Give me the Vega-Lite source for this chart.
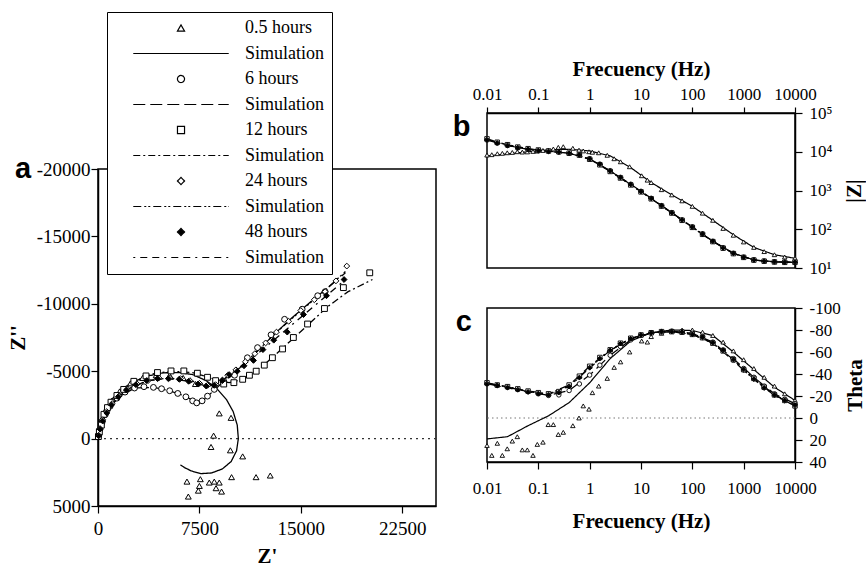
{
  "$schema": "https://vega.github.io/schema/vega-lite/v6.json",
  "background": "white",
  "padding": {"left": 6, "top": 10, "right": 0, "bottom": 0},
  "config": {
    "view": {"stroke": "black", "strokeWidth": 1.5},
    "axis": {"domainColor": "black", "domainWidth": 1.5, "tickColor": "black", "tickWidth": 1.2, "labelColor": "black", "titleColor": "black", "labelFont": "Liberation Serif", "titleFont": "Liberation Serif", "grid": false, "labelFlush": false, "labelOverlap": false, "titleFontWeight": "bold"}
  },
  "datasets": {
    "nyq": [
      {"k":"0.5 hours","x":40,"y":-300},{"k":"0.5 hours","x":120,"y":-800},{"k":"0.5 hours","x":300,"y":-1500},{"k":"0.5 hours","x":600,"y":-2200},{"k":"0.5 hours","x":1000,"y":-2800},{"k":"0.5 hours","x":1600,"y":-3500},{"k":"0.5 hours","x":2400,"y":-4100},{"k":"0.5 hours","x":3300,"y":-4500},{"k":"0.5 hours","x":4300,"y":-4700},{"k":"0.5 hours","x":5300,"y":-4700},{"k":"0.5 hours","x":6300,"y":-4500},{"k":"0.5 hours","x":7200,"y":-4050},{"k":"0.5 hours","x":8970,"y":-1870},{"k":"0.5 hours","x":9840,"y":-1540},{"k":"0.5 hours","x":8550,"y":-220},{"k":"0.5 hours","x":8360,"y":620},{"k":"0.5 hours","x":9790,"y":870},{"k":"0.5 hours","x":10700,"y":1320},{"k":"0.5 hours","x":12740,"y":2740},{"k":"0.5 hours","x":11690,"y":2860},{"k":"0.5 hours","x":9880,"y":2860},{"k":"0.5 hours","x":9140,"y":3930},{"k":"0.5 hours","x":8970,"y":3260},{"k":"0.5 hours","x":8730,"y":3680},{"k":"0.5 hours","x":8600,"y":3190},{"k":"0.5 hours","x":8230,"y":3260},{"k":"0.5 hours","x":7570,"y":3010},{"k":"0.5 hours","x":7500,"y":3510},{"k":"0.5 hours","x":7420,"y":3860},{"k":"0.5 hours","x":6580,"y":3190},{"k":"0.5 hours","x":6680,"y":4300},
      {"k":"6 hours","x":60,"y":-300},{"k":"6 hours","x":150,"y":-700},{"k":"6 hours","x":300,"y":-1200},{"k":"6 hours","x":550,"y":-1800},{"k":"6 hours","x":900,"y":-2400},{"k":"6 hours","x":1400,"y":-3000},{"k":"6 hours","x":2000,"y":-3450},{"k":"6 hours","x":2700,"y":-3750},{"k":"6 hours","x":3400,"y":-3850},{"k":"6 hours","x":4100,"y":-3800},{"k":"6 hours","x":4700,"y":-3700},{"k":"6 hours","x":5300,"y":-3550},{"k":"6 hours","x":5900,"y":-3350},{"k":"6 hours","x":6500,"y":-3100},{"k":"6 hours","x":7000,"y":-2800},{"k":"6 hours","x":7300,"y":-2650},{"k":"6 hours","x":7700,"y":-2800},{"k":"6 hours","x":8100,"y":-3150},{"k":"6 hours","x":8600,"y":-3650},{"k":"6 hours","x":9300,"y":-4250},{"k":"6 hours","x":10100,"y":-4700},{"k":"6 hours","x":11050,"y":-6000},{"k":"6 hours","x":11800,"y":-6750},{"k":"6 hours","x":12800,"y":-7700},{"k":"6 hours","x":13800,"y":-8850},{"k":"6 hours","x":15100,"y":-9600},{"k":"6 hours","x":16250,"y":-10600},{"k":"6 hours","x":16800,"y":-10900},
      {"k":"12 hours","x":30,"y":-150},{"k":"12 hours","x":100,"y":-500},{"k":"12 hours","x":250,"y":-1000},{"k":"12 hours","x":440,"y":-1800},{"k":"12 hours","x":700,"y":-2300},{"k":"12 hours","x":960,"y":-2700},{"k":"12 hours","x":1400,"y":-3200},{"k":"12 hours","x":1900,"y":-3650},{"k":"12 hours","x":2650,"y":-4250},{"k":"12 hours","x":3550,"y":-4650},{"k":"12 hours","x":4400,"y":-4900},{"k":"12 hours","x":5400,"y":-5020},{"k":"12 hours","x":6350,"y":-5020},{"k":"12 hours","x":7350,"y":-4850},{"k":"12 hours","x":8100,"y":-4550},{"k":"12 hours","x":8700,"y":-4300},{"k":"12 hours","x":9300,"y":-4050},{"k":"12 hours","x":10050,"y":-4150},{"k":"12 hours","x":10700,"y":-4400},{"k":"12 hours","x":11200,"y":-4700},{"k":"12 hours","x":11700,"y":-5000},{"k":"12 hours","x":12300,"y":-5450},{"k":"12 hours","x":12900,"y":-6000},{"k":"12 hours","x":13650,"y":-6650},{"k":"12 hours","x":14450,"y":-7500},{"k":"12 hours","x":15500,"y":-8500},{"k":"12 hours","x":16750,"y":-9650},{"k":"12 hours","x":18150,"y":-11200},{"k":"12 hours","x":20100,"y":-12300},
      {"k":"24 hours","x":50,"y":-250},{"k":"24 hours","x":150,"y":-750},{"k":"24 hours","x":350,"y":-1400},{"k":"24 hours","x":650,"y":-2000},{"k":"24 hours","x":1050,"y":-2600},{"k":"24 hours","x":1550,"y":-3150},{"k":"24 hours","x":2150,"y":-3650},{"k":"24 hours","x":2900,"y":-4050},{"k":"24 hours","x":3700,"y":-4300},{"k":"24 hours","x":4500,"y":-4500},{"k":"24 hours","x":5300,"y":-4500},{"k":"24 hours","x":6100,"y":-4450},{"k":"24 hours","x":6800,"y":-4300},{"k":"24 hours","x":7500,"y":-4100},{"k":"24 hours","x":8100,"y":-3950},{"k":"24 hours","x":8700,"y":-4000},{"k":"24 hours","x":9200,"y":-4350},{"k":"24 hours","x":9600,"y":-4700},{"k":"24 hours","x":10200,"y":-5100},{"k":"24 hours","x":10900,"y":-5700},{"k":"24 hours","x":11600,"y":-6300},{"k":"24 hours","x":12400,"y":-7100},{"k":"24 hours","x":13200,"y":-7900},{"k":"24 hours","x":14100,"y":-8700},{"k":"24 hours","x":15000,"y":-9500},{"k":"24 hours","x":16000,"y":-10300},{"k":"24 hours","x":16800,"y":-10900},{"k":"24 hours","x":17600,"y":-11700},{"k":"24 hours","x":18400,"y":-12800},
      {"k":"48 hours","x":50,"y":-200},{"k":"48 hours","x":150,"y":-700},{"k":"48 hours","x":350,"y":-1300},{"k":"48 hours","x":650,"y":-1900},{"k":"48 hours","x":1000,"y":-2500},{"k":"48 hours","x":1500,"y":-3100},{"k":"48 hours","x":2100,"y":-3600},{"k":"48 hours","x":2800,"y":-4000},{"k":"48 hours","x":3600,"y":-4300},{"k":"48 hours","x":4400,"y":-4450},{"k":"48 hours","x":5200,"y":-4450},{"k":"48 hours","x":6000,"y":-4400},{"k":"48 hours","x":6700,"y":-4250},{"k":"48 hours","x":7400,"y":-4050},{"k":"48 hours","x":8000,"y":-3900},{"k":"48 hours","x":8600,"y":-3950},{"k":"48 hours","x":9200,"y":-4300},{"k":"48 hours","x":9700,"y":-4750},{"k":"48 hours","x":10300,"y":-5000},{"k":"48 hours","x":10800,"y":-5400},{"k":"48 hours","x":11500,"y":-5800},{"k":"48 hours","x":12200,"y":-6600},{"k":"48 hours","x":13000,"y":-7300},{"k":"48 hours","x":14000,"y":-7900},{"k":"48 hours","x":15200,"y":-9200},{"k":"48 hours","x":16900,"y":-10600},{"k":"48 hours","x":18200,"y":-11800}
    ],
    "nyqsim": [
      {"k":"sim0.5","x":0,"y":0},{"k":"sim0.5","x":80,"y":-600},{"k":"sim0.5","x":250,"y":-1300},{"k":"sim0.5","x":600,"y":-2200},{"k":"sim0.5","x":1100,"y":-3000},{"k":"sim0.5","x":1800,"y":-3700},{"k":"sim0.5","x":2700,"y":-4250},{"k":"sim0.5","x":3700,"y":-4650},{"k":"sim0.5","x":4800,"y":-4880},{"k":"sim0.5","x":6000,"y":-4900},{"k":"sim0.5","x":7000,"y":-4750},{"k":"sim0.5","x":8000,"y":-4300},{"k":"sim0.5","x":8800,"y":-3700},{"k":"sim0.5","x":9500,"y":-2900},{"k":"sim0.5","x":10000,"y":-2000},{"k":"sim0.5","x":10300,"y":-1000},{"k":"sim0.5","x":10380,"y":0},{"k":"sim0.5","x":10250,"y":900},{"k":"sim0.5","x":9850,"y":1700},{"k":"sim0.5","x":9200,"y":2250},{"k":"sim0.5","x":8400,"y":2550},{"k":"sim0.5","x":7600,"y":2600},{"k":"sim0.5","x":6900,"y":2400},{"k":"sim0.5","x":6400,"y":2150},{"k":"sim0.5","x":6100,"y":1950},
      {"k":"sim6","x":0,"y":0},{"k":"sim6","x":150,"y":-700},{"k":"sim6","x":550,"y":-1800},{"k":"sim6","x":1400,"y":-3000},{"k":"sim6","x":2700,"y":-3750},{"k":"sim6","x":4100,"y":-3800},{"k":"sim6","x":5300,"y":-3550},{"k":"sim6","x":6300,"y":-3200},{"k":"sim6","x":7000,"y":-2850},{"k":"sim6","x":7400,"y":-2750},{"k":"sim6","x":7900,"y":-2950},{"k":"sim6","x":8500,"y":-3500},{"k":"sim6","x":9300,"y":-4250},{"k":"sim6","x":10100,"y":-4800},{"k":"sim6","x":11000,"y":-5700},{"k":"sim6","x":12000,"y":-6700},{"k":"sim6","x":13200,"y":-7900},{"k":"sim6","x":14500,"y":-9100},{"k":"sim6","x":15800,"y":-10200},{"k":"sim6","x":17000,"y":-11200},{"k":"sim6","x":18300,"y":-12300},
      {"k":"sim12","x":0,"y":0},{"k":"sim12","x":250,"y":-1000},{"k":"sim12","x":700,"y":-2300},{"k":"sim12","x":1400,"y":-3200},{"k":"sim12","x":2600,"y":-4200},{"k":"sim12","x":4000,"y":-4800},{"k":"sim12","x":5500,"y":-5000},{"k":"sim12","x":7000,"y":-4900},{"k":"sim12","x":8200,"y":-4550},{"k":"sim12","x":9000,"y":-4250},{"k":"sim12","x":9700,"y":-4150},{"k":"sim12","x":10500,"y":-4350},{"k":"sim12","x":11300,"y":-4800},{"k":"sim12","x":12200,"y":-5400},{"k":"sim12","x":13200,"y":-6300},{"k":"sim12","x":14300,"y":-7300},{"k":"sim12","x":15600,"y":-8500},{"k":"sim12","x":17000,"y":-9800},{"k":"sim12","x":18500,"y":-10900},{"k":"sim12","x":20300,"y":-11800},
      {"k":"sim24","x":0,"y":0},{"k":"sim24","x":350,"y":-1400},{"k":"sim24","x":1050,"y":-2600},{"k":"sim24","x":2150,"y":-3650},{"k":"sim24","x":3700,"y":-4300},{"k":"sim24","x":5300,"y":-4500},{"k":"sim24","x":6800,"y":-4300},{"k":"sim24","x":8000,"y":-4000},{"k":"sim24","x":8800,"y":-4050},{"k":"sim24","x":9500,"y":-4550},{"k":"sim24","x":10500,"y":-5300},{"k":"sim24","x":11600,"y":-6300},{"k":"sim24","x":12800,"y":-7500},{"k":"sim24","x":14100,"y":-8700},{"k":"sim24","x":15500,"y":-9900},{"k":"sim24","x":16900,"y":-11100},{"k":"sim24","x":18300,"y":-12400},
      {"k":"sim48","x":0,"y":0},{"k":"sim48","x":350,"y":-1300},{"k":"sim48","x":1000,"y":-2500},{"k":"sim48","x":2100,"y":-3600},{"k":"sim48","x":3600,"y":-4300},{"k":"sim48","x":5200,"y":-4450},{"k":"sim48","x":6700,"y":-4250},{"k":"sim48","x":8000,"y":-3900},{"k":"sim48","x":8800,"y":-3950},{"k":"sim48","x":9600,"y":-4600},{"k":"sim48","x":10700,"y":-5400},{"k":"sim48","x":11800,"y":-6300},{"k":"sim48","x":13000,"y":-7300},{"k":"sim48","x":14300,"y":-8400},{"k":"sim48","x":15600,"y":-9500},{"k":"sim48","x":16900,"y":-10600},{"k":"sim48","x":18300,"y":-11800}
    ],
    "bode": [
      {"k":"0.5 hours","f":0.01,"z":8200,"t":25},{"k":"0.5 hours","f":0.0124,"z":8400,"t":34},{"k":"0.5 hours","f":0.0159,"z":8900,"t":23},{"k":"0.5 hours","f":0.0199,"z":9100,"t":34},{"k":"0.5 hours","f":0.0248,"z":9400,"t":28},{"k":"0.5 hours","f":0.0311,"z":9600,"t":21},{"k":"0.5 hours","f":0.0389,"z":10000,"t":17},{"k":"0.5 hours","f":0.0487,"z":9800,"t":29},{"k":"0.5 hours","f":0.061,"z":9900,"t":29},{"k":"0.5 hours","f":0.0787,"z":10200,"t":34},{"k":"0.5 hours","f":0.0955,"z":10400,"t":24},{"k":"0.5 hours","f":0.123,"z":10800,"t":22},{"k":"0.5 hours","f":0.156,"z":11000,"t":6},{"k":"0.5 hours","f":0.196,"z":11800,"t":6},{"k":"0.5 hours","f":0.245,"z":13000,"t":15},{"k":"0.5 hours","f":0.306,"z":13500,"t":13},{"k":"0.5 hours","f":0.47,"z":12300,"t":7},{"k":"0.5 hours","f":0.62,"z":11000,"t":0},{"k":"0.5 hours","f":0.75,"z":10500,"t":-11},{"k":"0.5 hours","f":0.97,"z":10000,"t":-8},{"k":"0.5 hours","f":1.13,"z":9700,"t":-23},{"k":"0.5 hours","f":1.5,"z":9400,"t":-29},{"k":"0.5 hours","f":2.2,"z":8100,"t":-36},{"k":"0.5 hours","f":3.0,"z":6600,"t":-46},{"k":"0.5 hours","f":4.0,"z":5500,"t":-51},{"k":"0.5 hours","f":6.0,"z":4100,"t":-60},{"k":"0.5 hours","f":10.3,"z":2400,"t":-70},{"k":"0.5 hours","f":13.3,"z":1850,"t":-69},{"k":"0.5 hours","f":15.8,"z":1600,"t":-74},{"k":"0.5 hours","f":25.1,"z":1050,"t":-77},{"k":"0.5 hours","f":39.8,"z":770,"t":-79},{"k":"0.5 hours","f":63.1,"z":540,"t":-80},{"k":"0.5 hours","f":100,"z":390,"t":-80},{"k":"0.5 hours","f":158,"z":260,"t":-78},{"k":"0.5 hours","f":251,"z":170,"t":-75},{"k":"0.5 hours","f":398,"z":105,"t":-69},{"k":"0.5 hours","f":631,"z":70,"t":-61},{"k":"0.5 hours","f":1000,"z":47,"t":-53},{"k":"0.5 hours","f":1580,"z":34,"t":-45},{"k":"0.5 hours","f":2510,"z":26.5,"t":-37},{"k":"0.5 hours","f":3980,"z":22,"t":-29},{"k":"0.5 hours","f":6310,"z":19.2,"t":-22},{"k":"0.5 hours","f":10000,"z":17.8,"t":-16},
      {"k":"6 hours","f":0.01,"z":20000,"t":-31},{"k":"6 hours","f":0.0158,"z":16600,"t":-29.5},{"k":"6 hours","f":0.0251,"z":14450,"t":-28},{"k":"6 hours","f":0.0398,"z":12600,"t":-26},{"k":"6 hours","f":0.0631,"z":11500,"t":-24},{"k":"6 hours","f":0.1,"z":10700,"t":-22},{"k":"6 hours","f":0.158,"z":10200,"t":-20.5},{"k":"6 hours","f":0.251,"z":9800,"t":-21},{"k":"6 hours","f":0.398,"z":9100,"t":-25},{"k":"6 hours","f":0.631,"z":8300,"t":-31},{"k":"6 hours","f":1,"z":6600,"t":-39},{"k":"6 hours","f":1.58,"z":4800,"t":-48},{"k":"6 hours","f":2.51,"z":3240,"t":-57},{"k":"6 hours","f":3.98,"z":2190,"t":-65},{"k":"6 hours","f":6.31,"z":1450,"t":-71},{"k":"6 hours","f":10,"z":955,"t":-75},{"k":"6 hours","f":15.8,"z":630,"t":-77.5},{"k":"6 hours","f":25.1,"z":407,"t":-78.5},{"k":"6 hours","f":39.8,"z":269,"t":-79},{"k":"6 hours","f":63.1,"z":174,"t":-78.5},{"k":"6 hours","f":100,"z":115,"t":-77},{"k":"6 hours","f":158,"z":76,"t":-74},{"k":"6 hours","f":251,"z":49,"t":-69},{"k":"6 hours","f":398,"z":33,"t":-62},{"k":"6 hours","f":631,"z":24,"t":-54},{"k":"6 hours","f":1000,"z":19,"t":-45},{"k":"6 hours","f":1580,"z":16.2,"t":-37},{"k":"6 hours","f":2510,"z":15.1,"t":-29},{"k":"6 hours","f":3980,"z":14.5,"t":-22},{"k":"6 hours","f":6310,"z":14.1,"t":-17},{"k":"6 hours","f":10000,"z":14.1,"t":-13},
      {"k":"12 hours","f":0.01,"z":21500,"t":-32},{"k":"12 hours","f":0.0158,"z":17600,"t":-30},{"k":"12 hours","f":0.0251,"z":15200,"t":-28.5},{"k":"12 hours","f":0.0398,"z":13200,"t":-26.5},{"k":"12 hours","f":0.0631,"z":12000,"t":-24.5},{"k":"12 hours","f":0.1,"z":11100,"t":-23},{"k":"12 hours","f":0.158,"z":10500,"t":-22},{"k":"12 hours","f":0.251,"z":10000,"t":-24},{"k":"12 hours","f":0.398,"z":9200,"t":-30},{"k":"12 hours","f":0.631,"z":8200,"t":-38},{"k":"12 hours","f":1,"z":6400,"t":-47},{"k":"12 hours","f":1.58,"z":4600,"t":-55},{"k":"12 hours","f":2.51,"z":3100,"t":-62},{"k":"12 hours","f":3.98,"z":2100,"t":-68},{"k":"12 hours","f":6.31,"z":1390,"t":-72.5},{"k":"12 hours","f":10,"z":920,"t":-75.5},{"k":"12 hours","f":15.8,"z":610,"t":-77.5},{"k":"12 hours","f":25.1,"z":395,"t":-78.5},{"k":"12 hours","f":39.8,"z":262,"t":-78.5},{"k":"12 hours","f":63.1,"z":170,"t":-78},{"k":"12 hours","f":100,"z":112,"t":-76},{"k":"12 hours","f":158,"z":74,"t":-73},{"k":"12 hours","f":251,"z":48,"t":-68},{"k":"12 hours","f":398,"z":32.5,"t":-61},{"k":"12 hours","f":631,"z":23.5,"t":-53},{"k":"12 hours","f":1000,"z":18.8,"t":-44},{"k":"12 hours","f":1580,"z":16,"t":-36},{"k":"12 hours","f":2510,"z":15,"t":-28},{"k":"12 hours","f":3980,"z":14.3,"t":-21},{"k":"12 hours","f":6310,"z":14,"t":-16},{"k":"12 hours","f":10000,"z":14,"t":-11},
      {"k":"24 hours","f":0.01,"z":20800,"t":-31.5},{"k":"24 hours","f":0.0158,"z":17000,"t":-30},{"k":"24 hours","f":0.0251,"z":14800,"t":-28},{"k":"24 hours","f":0.0398,"z":12900,"t":-26},{"k":"24 hours","f":0.0631,"z":11800,"t":-24},{"k":"24 hours","f":0.1,"z":10900,"t":-22.5},{"k":"24 hours","f":0.158,"z":10300,"t":-21.5},{"k":"24 hours","f":0.251,"z":9900,"t":-23.5},{"k":"24 hours","f":0.398,"z":9100,"t":-29},{"k":"24 hours","f":0.631,"z":8200,"t":-37},{"k":"24 hours","f":1,"z":6500,"t":-46},{"k":"24 hours","f":1.58,"z":4700,"t":-54},{"k":"24 hours","f":2.51,"z":3150,"t":-61.5},{"k":"24 hours","f":3.98,"z":2130,"t":-67.5},{"k":"24 hours","f":6.31,"z":1410,"t":-72},{"k":"24 hours","f":10,"z":935,"t":-75.5},{"k":"24 hours","f":15.8,"z":620,"t":-77.5},{"k":"24 hours","f":25.1,"z":400,"t":-78.5},{"k":"24 hours","f":39.8,"z":265,"t":-78.5},{"k":"24 hours","f":63.1,"z":172,"t":-78},{"k":"24 hours","f":100,"z":113,"t":-76},{"k":"24 hours","f":158,"z":75,"t":-73},{"k":"24 hours","f":251,"z":48.5,"t":-68},{"k":"24 hours","f":398,"z":33,"t":-61},{"k":"24 hours","f":631,"z":24,"t":-52},{"k":"24 hours","f":1000,"z":19,"t":-43},{"k":"24 hours","f":1580,"z":16.1,"t":-35},{"k":"24 hours","f":2510,"z":15,"t":-27},{"k":"24 hours","f":3980,"z":14.4,"t":-20.5},{"k":"24 hours","f":6310,"z":14,"t":-15.5},{"k":"24 hours","f":10000,"z":14,"t":-11},
      {"k":"48 hours","f":0.01,"z":20300,"t":-31},{"k":"48 hours","f":0.0158,"z":16800,"t":-29.5},{"k":"48 hours","f":0.0251,"z":14600,"t":-27.5},{"k":"48 hours","f":0.0398,"z":12700,"t":-25.5},{"k":"48 hours","f":0.0631,"z":11600,"t":-23.5},{"k":"48 hours","f":0.1,"z":10800,"t":-22},{"k":"48 hours","f":0.158,"z":10200,"t":-21},{"k":"48 hours","f":0.251,"z":9800,"t":-23},{"k":"48 hours","f":0.398,"z":9100,"t":-28.5},{"k":"48 hours","f":0.631,"z":8250,"t":-36.5},{"k":"48 hours","f":1,"z":6550,"t":-45.5},{"k":"48 hours","f":1.58,"z":4750,"t":-54},{"k":"48 hours","f":2.51,"z":3200,"t":-61.5},{"k":"48 hours","f":3.98,"z":2160,"t":-67.5},{"k":"48 hours","f":6.31,"z":1430,"t":-72},{"k":"48 hours","f":10,"z":945,"t":-75.5},{"k":"48 hours","f":15.8,"z":625,"t":-77.5},{"k":"48 hours","f":25.1,"z":403,"t":-78.5},{"k":"48 hours","f":39.8,"z":267,"t":-78.5},{"k":"48 hours","f":63.1,"z":173,"t":-78},{"k":"48 hours","f":100,"z":114,"t":-76},{"k":"48 hours","f":158,"z":75.5,"t":-73.5},{"k":"48 hours","f":251,"z":49,"t":-68.5},{"k":"48 hours","f":398,"z":33,"t":-61.5},{"k":"48 hours","f":631,"z":24,"t":-53},{"k":"48 hours","f":1000,"z":19,"t":-44},{"k":"48 hours","f":1580,"z":16.1,"t":-35.5},{"k":"48 hours","f":2510,"z":15,"t":-27.5},{"k":"48 hours","f":3980,"z":14.4,"t":-21},{"k":"48 hours","f":6310,"z":14.1,"t":-16},{"k":"48 hours","f":10000,"z":14,"t":-12}
    ],
    "bsim": [
      {"k":"sim0.5","f":0.01,"z":7800,"t":19},{"k":"sim0.5","f":0.0251,"z":8800,"t":17},{"k":"sim0.5","f":0.0631,"z":10000,"t":7},{"k":"sim0.5","f":0.158,"z":11200,"t":-2},{"k":"sim0.5","f":0.398,"z":11600,"t":-14},{"k":"sim0.5","f":1,"z":10500,"t":-32},{"k":"sim0.5","f":2.51,"z":7800,"t":-54},{"k":"sim0.5","f":6.31,"z":3900,"t":-70},{"k":"sim0.5","f":15.8,"z":1600,"t":-77.5},{"k":"sim0.5","f":39.8,"z":770,"t":-80},{"k":"sim0.5","f":100,"z":390,"t":-79.5},{"k":"sim0.5","f":251,"z":170,"t":-75},{"k":"sim0.5","f":631,"z":72,"t":-60},{"k":"sim0.5","f":1580,"z":34,"t":-44},{"k":"sim0.5","f":3980,"z":22,"t":-28},{"k":"sim0.5","f":10000,"z":17.8,"t":-16},
      {"k":"sim6","f":0.01,"z":20000,"t":-31},{"k":"sim6","f":0.0251,"z":14450,"t":-28},{"k":"sim6","f":0.0631,"z":11500,"t":-24},{"k":"sim6","f":0.158,"z":10200,"t":-20.5},{"k":"sim6","f":0.398,"z":9100,"t":-25},{"k":"sim6","f":1,"z":6600,"t":-39},{"k":"sim6","f":2.51,"z":3240,"t":-57},{"k":"sim6","f":6.31,"z":1450,"t":-71},{"k":"sim6","f":15.8,"z":630,"t":-77.5},{"k":"sim6","f":39.8,"z":269,"t":-79},{"k":"sim6","f":100,"z":115,"t":-77},{"k":"sim6","f":251,"z":49,"t":-69},{"k":"sim6","f":631,"z":24,"t":-54},{"k":"sim6","f":1580,"z":16.2,"t":-37},{"k":"sim6","f":3980,"z":14.5,"t":-22},{"k":"sim6","f":10000,"z":14.1,"t":-13},
      {"k":"sim12","f":0.01,"z":21500,"t":-32},{"k":"sim12","f":0.0251,"z":15200,"t":-28.5},{"k":"sim12","f":0.0631,"z":12000,"t":-24.5},{"k":"sim12","f":0.158,"z":10500,"t":-22},{"k":"sim12","f":0.398,"z":9200,"t":-30},{"k":"sim12","f":1,"z":6400,"t":-47},{"k":"sim12","f":2.51,"z":3100,"t":-62},{"k":"sim12","f":6.31,"z":1390,"t":-72.5},{"k":"sim12","f":15.8,"z":610,"t":-77.5},{"k":"sim12","f":39.8,"z":262,"t":-78.5},{"k":"sim12","f":100,"z":112,"t":-76},{"k":"sim12","f":251,"z":48,"t":-68},{"k":"sim12","f":631,"z":23.5,"t":-53},{"k":"sim12","f":1580,"z":16,"t":-36},{"k":"sim12","f":3980,"z":14.3,"t":-21},{"k":"sim12","f":10000,"z":14,"t":-11},
      {"k":"sim24","f":0.01,"z":20800,"t":-31.5},{"k":"sim24","f":0.0251,"z":14800,"t":-28},{"k":"sim24","f":0.0631,"z":11800,"t":-24},{"k":"sim24","f":0.158,"z":10300,"t":-21.5},{"k":"sim24","f":0.398,"z":9100,"t":-29},{"k":"sim24","f":1,"z":6500,"t":-46},{"k":"sim24","f":2.51,"z":3150,"t":-61.5},{"k":"sim24","f":6.31,"z":1410,"t":-72},{"k":"sim24","f":15.8,"z":620,"t":-77.5},{"k":"sim24","f":39.8,"z":265,"t":-78.5},{"k":"sim24","f":100,"z":113,"t":-76},{"k":"sim24","f":251,"z":48.5,"t":-68},{"k":"sim24","f":631,"z":24,"t":-52},{"k":"sim24","f":1580,"z":16.1,"t":-35},{"k":"sim24","f":3980,"z":14.4,"t":-20.5},{"k":"sim24","f":10000,"z":14,"t":-11},
      {"k":"sim48","f":0.01,"z":20300,"t":-31},{"k":"sim48","f":0.0251,"z":14600,"t":-27.5},{"k":"sim48","f":0.0631,"z":11600,"t":-23.5},{"k":"sim48","f":0.158,"z":10200,"t":-21},{"k":"sim48","f":0.398,"z":9100,"t":-28.5},{"k":"sim48","f":1,"z":6550,"t":-45.5},{"k":"sim48","f":2.51,"z":3200,"t":-61.5},{"k":"sim48","f":6.31,"z":1430,"t":-72},{"k":"sim48","f":15.8,"z":625,"t":-77.5},{"k":"sim48","f":39.8,"z":267,"t":-78.5},{"k":"sim48","f":100,"z":114,"t":-76},{"k":"sim48","f":251,"z":49,"t":-68.5},{"k":"sim48","f":631,"z":24,"t":-53},{"k":"sim48","f":1580,"z":16.1,"t":-35.5},{"k":"sim48","f":3980,"z":14.4,"t":-21},{"k":"sim48","f":10000,"z":14,"t":-12}
    ]
  },
  "resolve": {"scale": {"shape": "independent", "fill": "independent", "strokeDash": "independent", "stroke": "independent"}, "legend": {"shape": "independent", "fill": "independent", "strokeDash": "independent", "stroke": "independent"}},
  "spacing": 13,
  "hconcat": [
    {
      "spacing": 0,
      "bounds": "flush",
      "resolve": {"scale": {"shape": "independent", "fill": "independent", "strokeDash": "independent", "stroke": "independent"}, "legend": {"shape": "independent", "fill": "independent", "strokeDash": "independent", "stroke": "independent"}},
      "vconcat": [
        {
          "width": 338, "height": 56,
          "view": {"stroke": null},
          "data": {"values": []},
          "mark": {"type": "point", "opacity": 0},
          "encoding": {}
        },
        {
          "width": 338, "height": 337,
          "title": {"text": "a", "orient": "left", "anchor": "end", "frame": "group", "angle": 0, "align": "right", "baseline": "middle", "font": "Liberation Sans", "fontSize": 29, "fontWeight": "bold", "color": "black", "offset": -40},
          "layer": [
            {
              "data": {"values": [{}]},
              "mark": {"type": "rule", "strokeDash": [2, 4], "color": "#333", "strokeWidth": 1.3},
              "encoding": {
                "y": {"datum": 0, "type": "quantitative", "scale": {"domain": [-20000, 5000], "reverse": true, "nice": false, "zero": false}, "axis": {"values": [-20000, -15000, -10000, -5000, 0, 5000], "labelExpr": "'' + datum.value", "title": "Z''", "titleFontSize": 21, "labelFontSize": 19, "tickSize": 7, "labelPadding": 1, "titlePadding": 8}}
              }
            },
            {
              "data": {"name": "nyqsim"},
              "mark": {"type": "line", "strokeWidth": 1.3},
              "encoding": {
                "x": {"field": "x", "type": "quantitative", "scale": {"domain": [0, 25000], "nice": false, "zero": false}, "axis": {"values": [0, 7500, 15000, 22500], "labelExpr": "'' + datum.value", "title": "Z'", "titleFontSize": 21, "labelFontSize": 19, "tickSize": 7, "labelPadding": 6, "titlePadding": 7}},
                "y": {"field": "y", "type": "quantitative", "scale": {"domain": [-20000, 5000], "reverse": true, "nice": false, "zero": false}, "axis": {"values": [-20000, -15000, -10000, -5000, 0, 5000], "labelExpr": "'' + datum.value", "title": "Z''", "titleFontSize": 21, "labelFontSize": 19, "tickSize": 7, "labelPadding": 1, "titlePadding": 8}},
                "order": {"value": null},
                "stroke": {"field": "k", "type": "nominal",
                  "scale": {"domain": ["0.5 hours", "sim0.5", "6 hours", "sim6", "12 hours", "sim12", "24 hours", "sim24", "48 hours", "sim48"], "range": ["black", "black", "black", "black", "black", "black", "black", "black", "black", "black"]},
                  "legend": {"orient": "none", "legendX": 9, "legendY": -157, "title": null, "padding": 7, "strokeColor": "black", "fillColor": "white", "symbolSize": 50, "symbolOffset": 58, "labelOffset": 55, "labelFont": "Liberation Serif", "labelFontSize": 18, "labelColor": "black", "rowPadding": 7.5, "symbolStrokeWidth": 1.2, "labelExpr": "indexof(datum.label, 'sim') === 0 ? 'Simulation  ' : datum.label", "direction": "vertical"}},
                "strokeDash": {"field": "k", "type": "nominal",
                  "scale": {"domain": ["0.5 hours", "sim0.5", "6 hours", "sim6", "12 hours", "sim12", "24 hours", "sim24", "48 hours", "sim48"], "range": [[1, 0], [1, 0], [1, 0], [12, 5], [1, 0], [7, 3, 2, 3], [1, 0], [8, 3, 2, 2, 2, 3], [1, 0], [2, 5, 7, 5, 7, 5]]},
                  "legend": {"orient": "none", "legendX": 9, "legendY": -157, "title": null, "padding": 7, "strokeColor": "black", "fillColor": "white", "symbolSize": 50, "symbolOffset": 58, "labelOffset": 55, "labelFont": "Liberation Serif", "labelFontSize": 18, "labelColor": "black", "rowPadding": 7.5, "symbolStrokeWidth": 1.2, "labelExpr": "indexof(datum.label, 'sim') === 0 ? 'Simulation  ' : datum.label", "direction": "vertical"}}
              }
            },
            {
              "data": {"name": "nyq"},
              "mark": {"type": "point", "filled": true, "strokeWidth": 1, "size": 34, "opacity": 1},
              "encoding": {
                "x": {"field": "x", "type": "quantitative", "scale": {"domain": [0, 25000], "nice": false, "zero": false}, "axis": {"values": [0, 7500, 15000, 22500], "labelExpr": "'' + datum.value", "title": "Z'", "titleFontSize": 21, "labelFontSize": 19, "tickSize": 7, "labelPadding": 6, "titlePadding": 7}},
                "y": {"field": "y", "type": "quantitative", "scale": {"domain": [-20000, 5000], "reverse": true, "nice": false, "zero": false}, "axis": {"values": [-20000, -15000, -10000, -5000, 0, 5000], "labelExpr": "'' + datum.value", "title": "Z''", "titleFontSize": 21, "labelFontSize": 19, "tickSize": 7, "labelPadding": 1, "titlePadding": 8}},
                "stroke": {"field": "k", "type": "nominal",
                  "scale": {"domain": ["0.5 hours", "sim0.5", "6 hours", "sim6", "12 hours", "sim12", "24 hours", "sim24", "48 hours", "sim48"], "range": ["black", "black", "black", "black", "black", "black", "black", "black", "black", "black"]},
                  "legend": {"orient": "none", "legendX": 9, "legendY": -157, "title": null, "padding": 7, "strokeColor": "black", "fillColor": "white", "symbolSize": 50, "symbolOffset": 58, "labelOffset": 55, "labelFont": "Liberation Serif", "labelFontSize": 18, "labelColor": "black", "rowPadding": 7.5, "symbolStrokeWidth": 1.2, "labelExpr": "indexof(datum.label, 'sim') === 0 ? 'Simulation  ' : datum.label", "direction": "vertical"}},
                "shape": {"field": "k", "type": "nominal",
                  "scale": {"domain": ["0.5 hours", "sim0.5", "6 hours", "sim6", "12 hours", "sim12", "24 hours", "sim24", "48 hours", "sim48"], "range": ["triangle-up", "M-13.5,0H13.5", "circle", "M-13.5,0H13.5", "square", "M-13.5,0H13.5", "diamond", "M-13.5,0H13.5", "diamond", "M-13.5,0H13.5"]},
                  "legend": {"orient": "none", "legendX": 9, "legendY": -157, "title": null, "padding": 7, "strokeColor": "black", "fillColor": "white", "symbolSize": 50, "symbolOffset": 58, "labelOffset": 55, "labelFont": "Liberation Serif", "labelFontSize": 18, "labelColor": "black", "rowPadding": 7.5, "symbolStrokeWidth": 1.2, "labelExpr": "indexof(datum.label, 'sim') === 0 ? 'Simulation  ' : datum.label", "direction": "vertical"}},
                "fill": {"field": "k", "type": "nominal",
                  "scale": {"domain": ["0.5 hours", "sim0.5", "6 hours", "sim6", "12 hours", "sim12", "24 hours", "sim24", "48 hours", "sim48"], "range": ["white", "transparent", "white", "transparent", "white", "transparent", "white", "transparent", "black", "transparent"]},
                  "legend": {"orient": "none", "legendX": 9, "legendY": -157, "title": null, "padding": 7, "strokeColor": "black", "fillColor": "white", "symbolSize": 50, "symbolOffset": 58, "labelOffset": 55, "labelFont": "Liberation Serif", "labelFontSize": 18, "labelColor": "black", "rowPadding": 7.5, "symbolStrokeWidth": 1.2, "labelExpr": "indexof(datum.label, 'sim') === 0 ? 'Simulation  ' : datum.label", "direction": "vertical"}}
              }
            }
          ]
        }
      ]
    },
    {
      "spacing": 21,
      "vconcat": [
        {
          "width": 308, "height": 155,
          "title": {"text": "b", "orient": "left", "anchor": "end", "frame": "group", "angle": 0, "align": "right", "baseline": "top", "font": "Liberation Sans", "fontSize": 29, "fontWeight": "bold", "color": "black", "offset": -16},
          "layer": [
            {
              "data": {"name": "bsim"},
              "mark": {"type": "line", "stroke": "black", "strokeWidth": 1.2},
              "encoding": {
                "x": {"field": "f", "type": "quantitative", "scale": {"type": "log", "domain": [0.01, 10000], "nice": false}, "axis": {"orient": "top", "values": [0.01, 0.1, 1, 10, 100, 1000, 10000], "labelExpr": "'' + datum.value", "title": "Frecuency (Hz)", "titleFontSize": 21, "labelFontSize": 17, "tickSize": 6, "labelPadding": 4, "titlePadding": 6}},
                "y": {"field": "z", "type": "quantitative", "scale": {"type": "log", "domain": [10, 100000], "nice": false}, "axis": {"orient": "right", "values": [10, 100, 1000, 10000, 100000], "labelExpr": "datum.value < 50 ? '10¹' : datum.value < 500 ? '10²' : datum.value < 5000 ? '10³' : datum.value < 50000 ? '10⁴' : '10⁵'", "title": "|Z|", "titleAngle": -90, "titleBaseline": "top", "titleFontSize": 21, "labelFontSize": 17, "tickSize": 7, "labelPadding": 7, "titlePadding": 12}},
                "strokeDash": {"field": "k", "type": "nominal", "legend": null,
                  "scale": {"domain": ["0.5 hours", "sim0.5", "6 hours", "sim6", "12 hours", "sim12", "24 hours", "sim24", "48 hours", "sim48"], "range": [[1, 0], [1, 0], [1, 0], [12, 5], [1, 0], [7, 3, 2, 3], [1, 0], [8, 3, 2, 2, 2, 3], [1, 0], [2, 5, 7, 5, 7, 5]]}}
              }
            },
            {
              "data": {"name": "bode"},
              "mark": {"type": "point", "filled": true, "stroke": "black", "strokeWidth": 0.9, "size": 20, "opacity": 1},
              "encoding": {
                "x": {"field": "f", "type": "quantitative", "scale": {"type": "log", "domain": [0.01, 10000], "nice": false}, "axis": {"orient": "top", "values": [0.01, 0.1, 1, 10, 100, 1000, 10000], "labelExpr": "'' + datum.value", "title": "Frecuency (Hz)", "titleFontSize": 21, "labelFontSize": 17, "tickSize": 6, "labelPadding": 4, "titlePadding": 6}},
                "y": {"field": "z", "type": "quantitative", "scale": {"type": "log", "domain": [10, 100000], "nice": false}, "axis": {"orient": "right", "values": [10, 100, 1000, 10000, 100000], "labelExpr": "datum.value < 50 ? '10¹' : datum.value < 500 ? '10²' : datum.value < 5000 ? '10³' : datum.value < 50000 ? '10⁴' : '10⁵'", "title": "|Z|", "titleAngle": -90, "titleBaseline": "top", "titleFontSize": 21, "labelFontSize": 17, "tickSize": 7, "labelPadding": 7, "titlePadding": 12}},
                "shape": {"field": "k", "type": "nominal", "legend": null,
                  "scale": {"domain": ["0.5 hours", "sim0.5", "6 hours", "sim6", "12 hours", "sim12", "24 hours", "sim24", "48 hours", "sim48"], "range": ["triangle-up", "M-13.5,0H13.5", "circle", "M-13.5,0H13.5", "square", "M-13.5,0H13.5", "diamond", "M-13.5,0H13.5", "diamond", "M-13.5,0H13.5"]}},
                "fill": {"field": "k", "type": "nominal", "legend": null,
                  "scale": {"domain": ["0.5 hours", "sim0.5", "6 hours", "sim6", "12 hours", "sim12", "24 hours", "sim24", "48 hours", "sim48"], "range": ["white", "transparent", "white", "transparent", "white", "transparent", "white", "transparent", "black", "transparent"]}}
              }
            }
          ]
        },
        {
          "width": 308, "height": 154,
          "title": {"text": "c", "orient": "left", "anchor": "end", "frame": "group", "angle": 0, "align": "right", "baseline": "top", "font": "Liberation Sans", "fontSize": 29, "fontWeight": "bold", "color": "black", "offset": -16},
          "layer": [
            {
              "data": {"values": [{}]},
              "mark": {"type": "rule", "strokeDash": [1.5, 3], "color": "#777", "strokeWidth": 1},
              "encoding": {
                "y": {"datum": 0, "type": "quantitative", "scale": {"domain": [-100, 40], "reverse": true, "nice": false, "zero": false}, "axis": {"orient": "right", "values": [-100, -80, -60, -40, -20, 0, 20, 40], "labelExpr": "'' + datum.value", "title": "Theta", "titleAngle": -90, "titleBaseline": "top", "titleFontSize": 21, "labelFontSize": 17, "tickSize": 7, "labelPadding": 7, "titlePadding": 4}}
              }
            },
            {
              "data": {"name": "bsim"},
              "mark": {"type": "line", "stroke": "black", "strokeWidth": 1.2},
              "encoding": {
                "x": {"field": "f", "type": "quantitative", "scale": {"type": "log", "domain": [0.01, 10000], "nice": false}, "axis": {"orient": "bottom", "values": [0.01, 0.1, 1, 10, 100, 1000, 10000], "labelExpr": "'' + datum.value", "title": "Frecuency (Hz)", "titleFontSize": 21, "labelFontSize": 17, "tickSize": 7, "labelPadding": 11, "titlePadding": 14}},
                "y": {"field": "t", "type": "quantitative", "scale": {"domain": [-100, 40], "reverse": true, "nice": false, "zero": false}, "axis": {"orient": "right", "values": [-100, -80, -60, -40, -20, 0, 20, 40], "labelExpr": "'' + datum.value", "title": "Theta", "titleAngle": -90, "titleBaseline": "top", "titleFontSize": 21, "labelFontSize": 17, "tickSize": 7, "labelPadding": 7, "titlePadding": 4}},
                "strokeDash": {"field": "k", "type": "nominal", "legend": null,
                  "scale": {"domain": ["0.5 hours", "sim0.5", "6 hours", "sim6", "12 hours", "sim12", "24 hours", "sim24", "48 hours", "sim48"], "range": [[1, 0], [1, 0], [1, 0], [12, 5], [1, 0], [7, 3, 2, 3], [1, 0], [8, 3, 2, 2, 2, 3], [1, 0], [2, 5, 7, 5, 7, 5]]}}
              }
            },
            {
              "data": {"name": "bode"},
              "mark": {"type": "point", "filled": true, "stroke": "black", "strokeWidth": 0.9, "size": 20, "opacity": 1},
              "encoding": {
                "x": {"field": "f", "type": "quantitative", "scale": {"type": "log", "domain": [0.01, 10000], "nice": false}, "axis": {"orient": "bottom", "values": [0.01, 0.1, 1, 10, 100, 1000, 10000], "labelExpr": "'' + datum.value", "title": "Frecuency (Hz)", "titleFontSize": 21, "labelFontSize": 17, "tickSize": 7, "labelPadding": 11, "titlePadding": 14}},
                "y": {"field": "t", "type": "quantitative", "scale": {"domain": [-100, 40], "reverse": true, "nice": false, "zero": false}, "axis": {"orient": "right", "values": [-100, -80, -60, -40, -20, 0, 20, 40], "labelExpr": "'' + datum.value", "title": "Theta", "titleAngle": -90, "titleBaseline": "top", "titleFontSize": 21, "labelFontSize": 17, "tickSize": 7, "labelPadding": 7, "titlePadding": 4}},
                "shape": {"field": "k", "type": "nominal", "legend": null,
                  "scale": {"domain": ["0.5 hours", "sim0.5", "6 hours", "sim6", "12 hours", "sim12", "24 hours", "sim24", "48 hours", "sim48"], "range": ["triangle-up", "M-13.5,0H13.5", "circle", "M-13.5,0H13.5", "square", "M-13.5,0H13.5", "diamond", "M-13.5,0H13.5", "diamond", "M-13.5,0H13.5"]}},
                "fill": {"field": "k", "type": "nominal", "legend": null,
                  "scale": {"domain": ["0.5 hours", "sim0.5", "6 hours", "sim6", "12 hours", "sim12", "24 hours", "sim24", "48 hours", "sim48"], "range": ["white", "transparent", "white", "transparent", "white", "transparent", "white", "transparent", "black", "transparent"]}}
              }
            }
          ]
        }
      ]
    }
  ]
}
